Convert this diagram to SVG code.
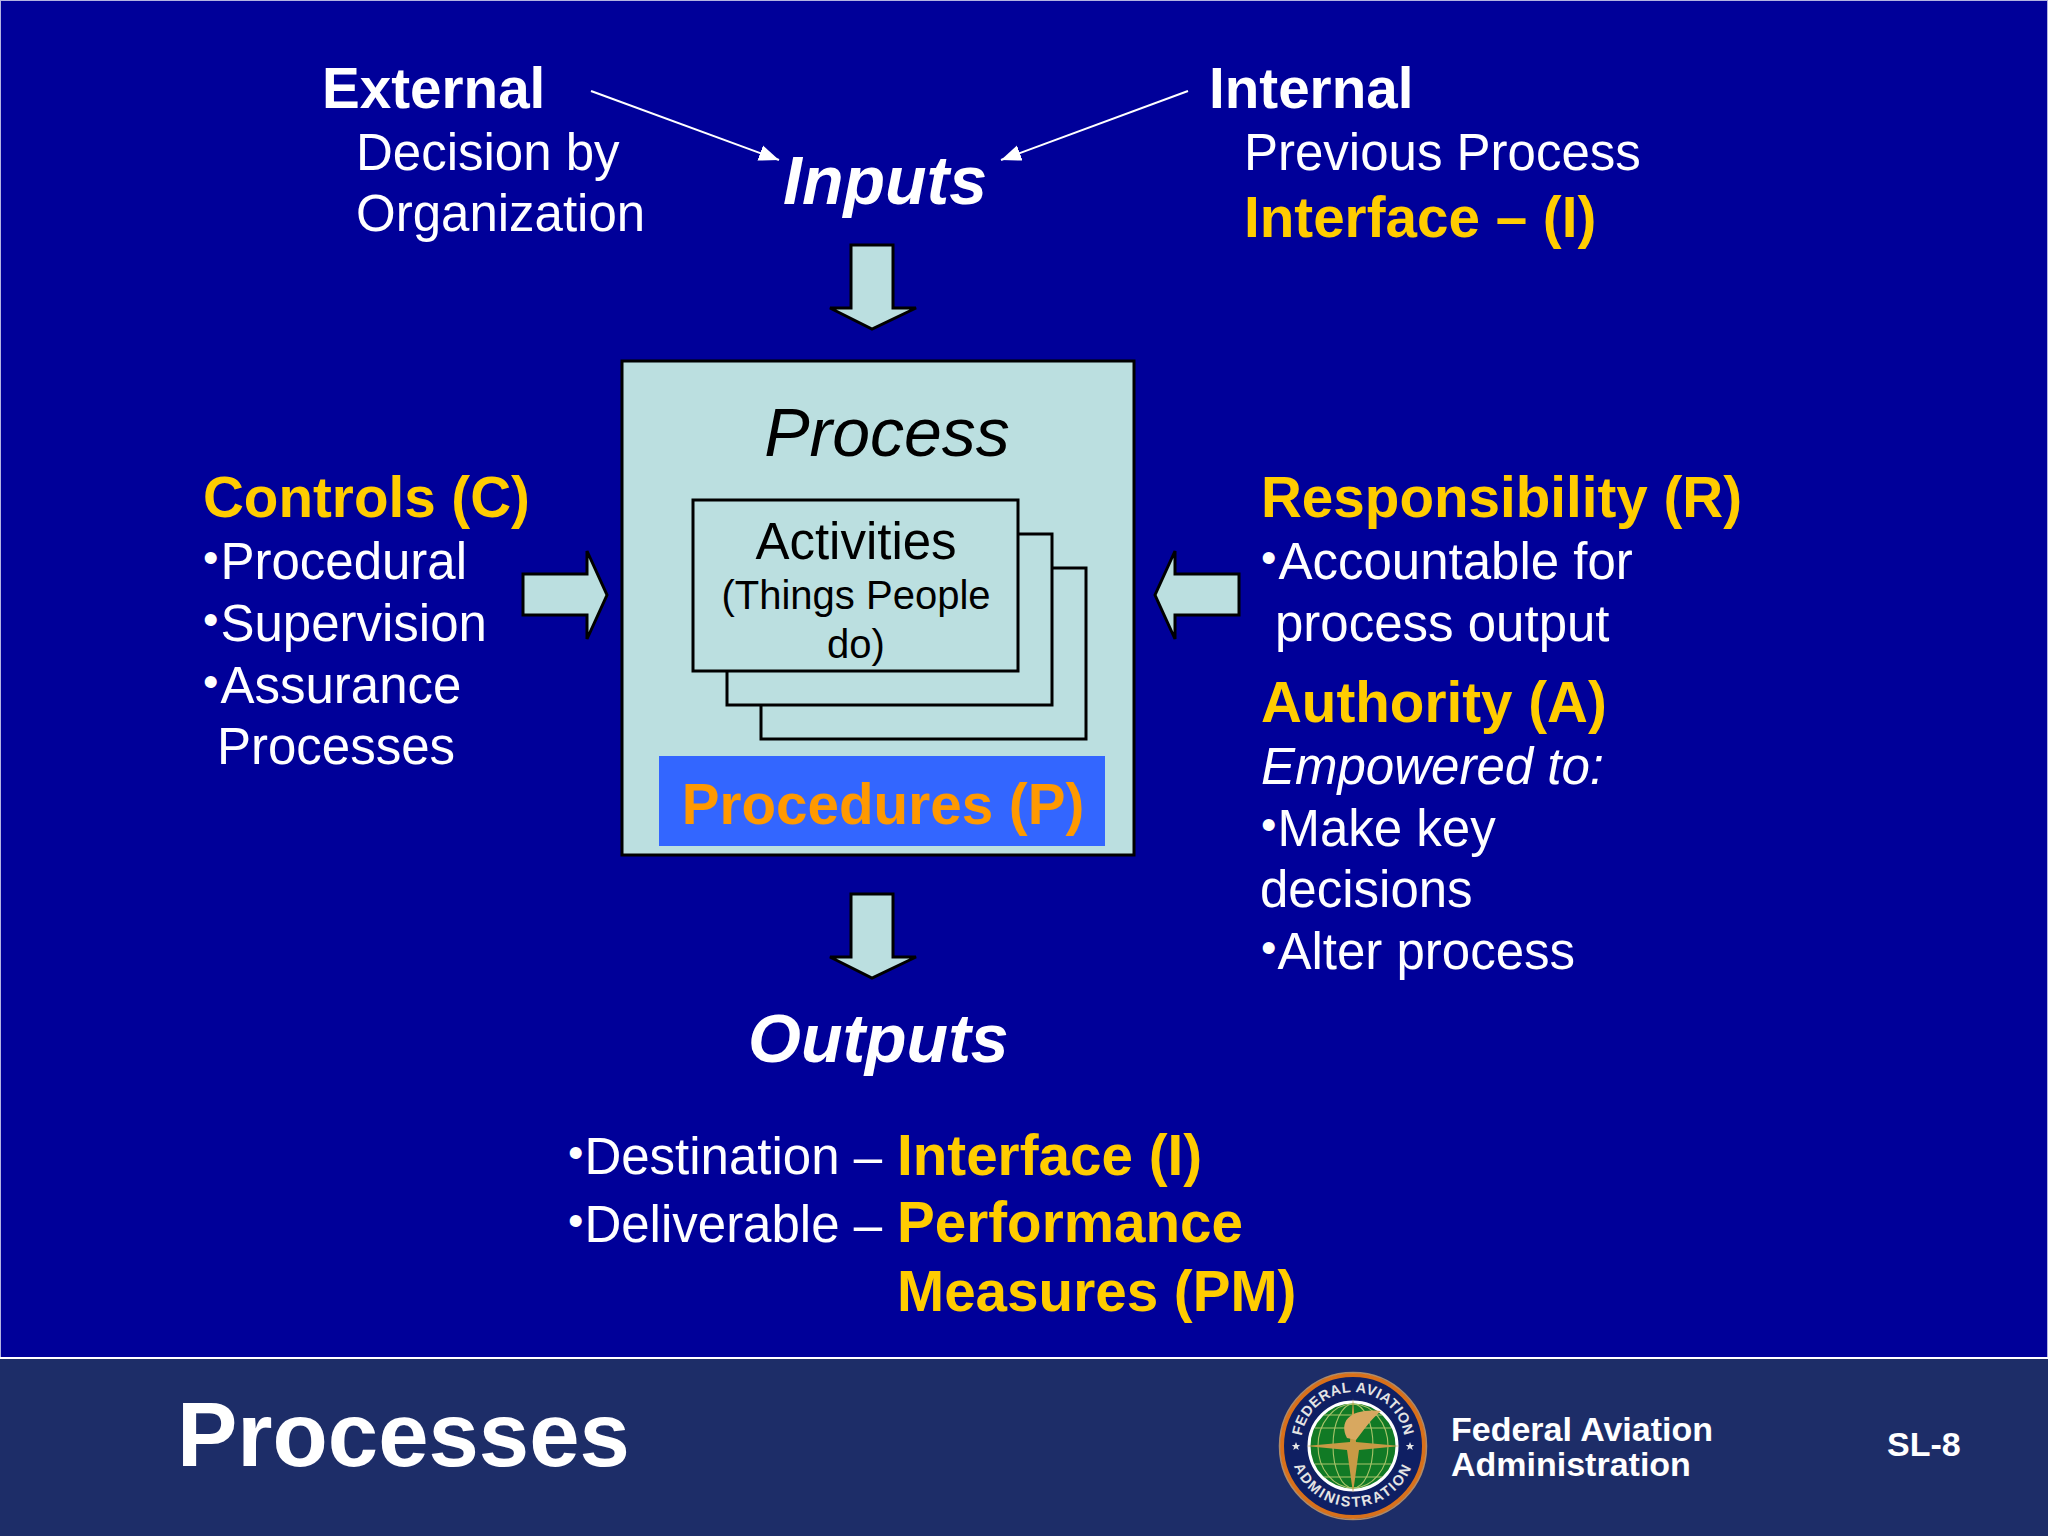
<svg xmlns="http://www.w3.org/2000/svg" width="2048" height="1536" viewBox="0 0 2048 1536">
<defs>
<style>
text{font-family:"Liberation Sans",Arial,sans-serif}
.w{fill:#fff;font-size:51px}
.wb{fill:#fff;font-size:56.6px;font-weight:bold}
.y{fill:#ffcc00;font-size:56.6px;font-weight:bold}
.h{fill:#fff;font-size:68px;font-weight:bold;font-style:italic}
.i{font-style:italic}
.b{font-size:44px}
.t{fill:#000;text-anchor:middle}
.box{fill:#bbdfe0;stroke:#000;stroke-width:3}
.lk{stroke:#fff;stroke-width:2;fill:none;marker-end:url(#ah)}
.lg{font-size:14.5px;font-weight:bold;fill:#e4e4e4}
.f{font-weight:bold;fill:#fff}
</style>
<marker id="ah" markerUnits="userSpaceOnUse" markerWidth="22" markerHeight="18" refX="20" refY="9" orient="auto"><path d="M0 1L20 9L0 17z" fill="#fff"/></marker>
</defs>
<rect width="2048" height="1536" fill="#000099"/>
<rect x="0.5" y="0.5" width="2047" height="1357" fill="none" stroke="#fff" stroke-width="1" opacity="0.7"/>
<rect y="1358" width="2048" height="178" fill="#1d2d68"/>
<rect y="1357" width="2048" height="2" fill="#fff"/>

<g id="connectors">
<path class="lk" d="M591 91L779 160"/>
<path class="lk" d="M1188 91L1001 160"/>
<path class="box" d="M851 245H893V308H916L872 329L830 308H851Z"/>
<path class="box" d="M851 894H893V957H916L872 978L830 957H851Z"/>
<path class="box" d="M523 574H587V551L607 595L587 639V615H523Z"/>
<path class="box" d="M1239 574H1175V551L1155 595L1175 639V615H1239Z"/>
</g>

<g id="external"><text class="wb" x="322" y="108">External</text><text class="w" x="356" y="170">Decision by</text><text class="w" x="356" y="231">Organization</text></g>
<g id="internal"><text class="wb" x="1209" y="108">Internal</text><text class="w" x="1244" y="170">Previous Process</text><text class="y" x="1244" y="237">Interface – (I)</text></g>
<g id="inputs"><text class="h" x="783" y="204">Inputs</text></g>

<g id="process">
<rect class="box" x="622" y="361" width="512" height="494"/>
<text class="t i" x="887" y="456" font-size="68">Process</text>
<rect class="box" x="761" y="568" width="325" height="171" stroke-width="2.5"/>
<rect class="box" x="727" y="534" width="325" height="171" stroke-width="2.5"/>
<rect class="box" x="693" y="500" width="325" height="171" stroke-width="2.5"/>
<text class="t" x="856" y="559" font-size="51">Activities</text>
<text class="t" x="856" y="609" font-size="40">(Things People</text>
<text class="t" x="856" y="658" font-size="40">do)</text>
<rect x="659" y="756" width="446" height="90" fill="#3366ff"/>
<text x="883" y="824" font-size="56.6" font-weight="bold" fill="#ff9900" text-anchor="middle">Procedures (P)</text>
</g>

<g id="controls"><text class="y" x="203" y="517">Controls (C)</text>
<text class="w" x="203" y="579"><tspan class="b" dy="-6">•</tspan><tspan dy="6" dx="2">Procedural</tspan></text>
<text class="w" x="203" y="641"><tspan class="b" dy="-6">•</tspan><tspan dy="6" dx="2">Supervision</tspan></text>
<text class="w" x="203" y="703"><tspan class="b" dy="-6">•</tspan><tspan dy="6" dx="2">Assurance</tspan></text>
<text class="w" x="217" y="764">Processes</text></g>
<g id="responsibility"><text class="y" x="1261" y="517">Responsibility (R)</text>
<text class="w" x="1261" y="579"><tspan class="b" dy="-6">•</tspan><tspan dy="6" dx="2">Accountable for</tspan></text>
<text class="w" x="1275" y="641">process output</text></g>
<g id="authority"><text class="y" x="1261" y="722">Authority (A)</text><text class="w i" x="1261" y="784">Empowered to:</text>
<text class="w" x="1261" y="846"><tspan class="b" dy="-6">•</tspan><tspan dy="6" dx="1">Make key</tspan></text>
<text class="w" x="1260" y="907">decisions</text>
<text class="w" x="1261" y="969"><tspan class="b" dy="-6">•</tspan><tspan dy="6" dx="1">Alter process</tspan></text></g>
<g id="outputs"><text class="h" x="748" y="1062">Outputs</text>
<text class="w" x="568" y="1174"><tspan class="b" dy="-6">•</tspan><tspan dy="6" dx="1">Destination –</tspan></text><text class="y" x="897" y="1175">Interface (I)</text>
<text class="w" x="568" y="1242"><tspan class="b" dy="-6">•</tspan><tspan dy="6" dx="1">Deliverable –</tspan></text><text class="y" x="897" y="1242">Performance</text><text class="y" x="897" y="1311">Measures (PM)</text></g>

<g id="footer">
<text class="f" x="177" y="1466" font-size="90.5">Processes</text>
<text class="f" x="1451" y="1441" font-size="34">Federal Aviation</text>
<text class="f" x="1451" y="1476" font-size="34">Administration</text>
<text class="f" x="1887" y="1456" font-size="34">SL-8</text>
</g>

<g id="seal">
<circle cx="1353" cy="1446" r="71" fill="#0f1f63" stroke="#d9701a" stroke-width="4"/>
<circle cx="1353" cy="1446" r="73.500" fill="none" stroke="#e9b26a" stroke-width="1.5" opacity=".7"/>
<circle cx="1353" cy="1446" r="44" fill="#117a25" stroke="#fff" stroke-width="3"/>
<g fill="none" stroke="#a9c46a" stroke-width="1.1"><ellipse cx="1353" cy="1446" rx="20" ry="42"/><ellipse cx="1353" cy="1446" rx="35" ry="42"/><path d="M1315 1428H1391M1315 1464H1391M1324 1415H1382M1324 1477H1382"/></g>
<path d="M1353 1398L1356 1442L1400 1446L1359 1450L1353 1493L1347 1450L1306 1446L1350 1442Z" fill="#c89a45"/>
<path d="M1347 1438C1338 1420 1352 1408 1381 1411C1370 1420 1364 1430 1356 1440Z" fill="#d8a860"/>
<path id="sa" d="M1301.500 1437A52 52 0 0 1 1404.500 1437" fill="none"/>
<path id="sb" d="M1291 1455A63 63 0 0 0 1415 1455" fill="none"/>
<text class="lg" letter-spacing=".5"><textPath href="#sa" startOffset="50%" text-anchor="middle">FEDERAL AVIATION</textPath></text>
<text class="lg" letter-spacing="2"><textPath href="#sb" startOffset="50%" text-anchor="middle">ADMINISTRATION</textPath></text>
<path d="M1296 1442l1.2 3h3l-2.4 2 1 3-2.8-1.8-2.8 1.800 1-3-2.400-2h3zM1410 1442l1.200 3h3l-2.400 2 1 3-2.800-1.800-2.800 1.800 1-3-2.400-2h3z" fill="#e4e4e4"/>
</g>
</svg>
